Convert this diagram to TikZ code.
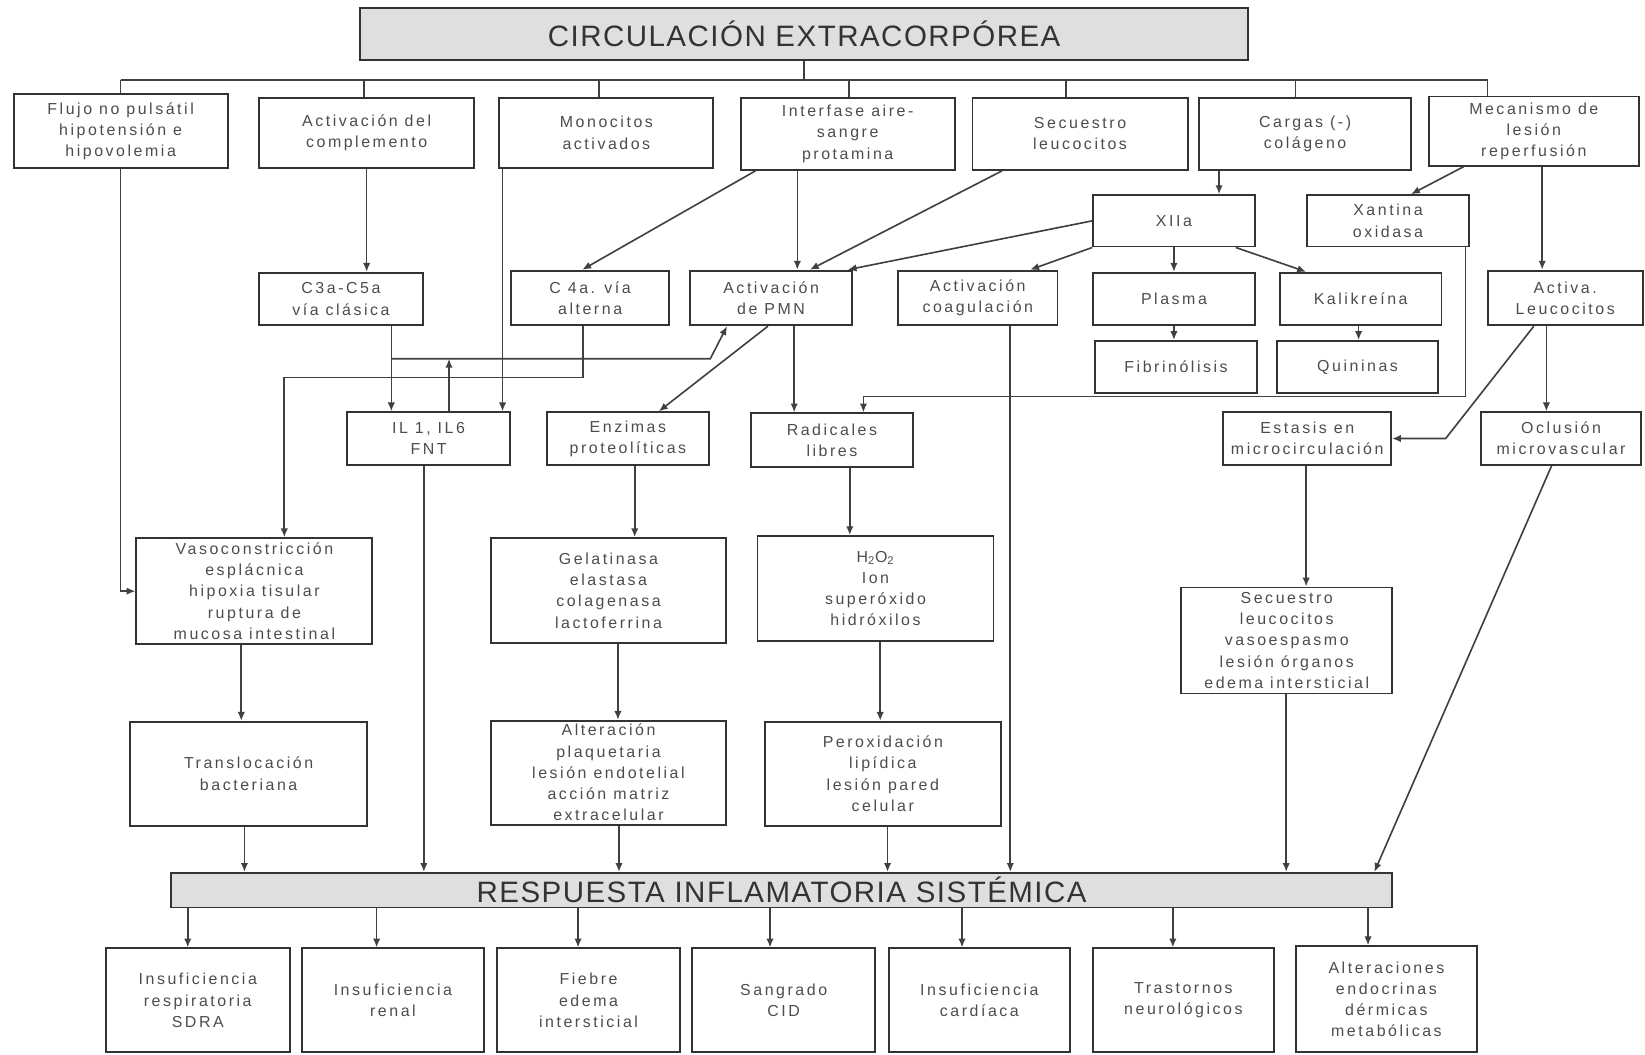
\documentclass[tikz,border=0pt]{standalone}
\usepackage{fontspec}
\setmainfont{Liberation Sans}
\newfontfamily\boxfont{Liberation Sans}[LetterSpace=16]
\newfontfamily\headfont{Liberation Sans}[LetterSpace=5]
\usetikzlibrary{arrows.meta}

\begin{document}
\begin{tikzpicture}[x=0.025cm, y=-0.025cm, >={Latex[length=6pt,width=5pt]}]
    \tikzset{block/.style = {shape=rectangle, draw=black!80, line width=1.3pt, inner sep=0pt, align=center, text=black!70, font=\boxfont\fontsize{10.8}{14.4}\selectfont}}
    \tikzset{head/.style = {block, fill=gray!25, text=black!80, font=\headfont\fontsize{20}{24}\selectfont}}
    \tikzset{wh/.style 2 args = {minimum width=#1*0.025cm, minimum height=#2*0.025cm}}
    \tikzset{link/.style = {draw=black!75, line width=1.1pt}}

    \useasboundingbox (0,0) rectangle (1568,1005);

    % headers
    \node[head, wh={847}{49}] (top) at (766.5,32.5) {CIRCULACIÓN EXTRACORPÓREA};
    \node[head, wh={1164}{33}] (resp) at (745,848.5) {RESPUESTA INFLAMATORIA SISTÉMICA};

    % causes
    \node[block, wh={204}{70}] (flujo) at (115,125) {Flujo no pulsátil\\hipotensión e\\hipovolemia};
    \node[block, wh={205}{67}] (compl) at (349.5,126.5) {Activación del\\complemento};
    \node[block, wh={204}{67}] (mono) at (578,126.5) {Monocitos\\activados};
    \node[block, wh={204}{69}] (inter) at (808,127.5) {Interfase aire-\\sangre\\protamina};
    \node[block, wh={205}{69}] (secu) at (1029.5,127.5) {Secuestro\\leucocitos};
    \node[block, wh={202}{69}] (cargas) at (1244,127.5) {Cargas (-)\\colágeno};
    \node[block, wh={200}{66}] (meca) at (1462,125) {Mecanismo de\\lesión\\reperfusión};

    % mediators
    \node[block, wh={154}{49}] (xiia) at (1119,210.5) {XIIa};
    \node[block, wh={154}{49}] (xant) at (1323,210.5) {Xantina\\oxidasa};
    \node[block, wh={156}{50}] (c3a) at (325,285) {C3a-C5a\\vía clásica};
    \node[block, wh={151}{52}] (c4a) at (562.5,284) {C 4a. vía\\alterna};
    \node[block, wh={154}{52}] (pmn) at (735,284) {Activación\\de PMN};
    \node[block, wh={152}{52}] (coag) at (932,284) {Activación\\coagulación};
    \node[block, wh={154}{50}] (plasma) at (1119,285) {Plasma};
    \node[block, wh={154}{50}] (kalik) at (1297,285) {Kalikreína};
    \node[block, wh={148}{52}] (activa) at (1492,284) {Activa.\\Leucocitos};
    \node[block, wh={154}{50}] (fibrin) at (1121,350) {Fibrinólisis};
    \node[block, wh={154}{50}] (quin) at (1294,350) {Quininas};
    \node[block, wh={155}{50}] (il) at (408.5,418) {IL 1, IL6\\FNT};
    \node[block, wh={155}{50}] (enz) at (598.5,418) {Enzimas\\proteolíticas};
    \node[block, wh={154}{51}] (rad) at (793,419.5) {Radicales\\libres};
    \node[block, wh={160}{50}] (estasis) at (1246,418) {Estasis en\\microcirculación};
    \node[block, wh={152}{50}] (oclu) at (1488,418) {Oclusión\\microvascular};

    % effects
    \node[block, wh={225}{101}] (vaso) at (242.5,563.5) {Vasoconstricción\\esplácnica\\hipoxia tisular\\ruptura de\\mucosa intestinal};
    \node[block, wh={224}{100}] (gelat) at (580,563) {Gelatinasa\\elastasa\\colagenasa\\lactoferrina};
    \node[block, wh={225}{100}] (h2o2) at (834.5,561) {H\textsubscript{2}O\textsubscript{2}\\Ion\\superóxido\\hidróxilos};
    \node[block, wh={201}{101}] (secu2) at (1226.5,610.5) {Secuestro\\leucocitos\\vasoespasmo\\lesión órganos\\edema intersticial};
    \node[block, wh={226}{99}] (transl) at (237,737.5) {Translocación\\bacteriana};
    \node[block, wh={224}{99}] (alter) at (580,736.5) {Alteración\\plaquetaria\\lesión endotelial\\acción matriz\\extracelular};
    \node[block, wh={225}{99}] (perox) at (841.5,737.5) {Peroxidación\\lipídica\\lesión pared\\celular};

    % consequences
    \node[block, wh={175}{99}] (sdra) at (188.5,953.5) {Insuficiencia\\respiratoria\\SDRA};
    \node[block, wh={173}{99}] (renal) at (374.5,953.5) {Insuficiencia\\renal};
    \node[block, wh={174}{99}] (fiebre) at (561,953.5) {Fiebre\\edema\\intersticial};
    \node[block, wh={174}{99}] (cid) at (747,953.5) {Sangrado\\CID};
    \node[block, wh={173}{99}] (cardiaca) at (933.5,953.5) {Insuficiencia\\cardíaca};
    \node[block, wh={172}{99}] (neuro) at (1128,953.5) {Trastornos\\neurológicos};
    \node[block, wh={173}{101}] (endo) at (1321.5,952.5) {Alteraciones\\endocrinas\\dérmicas\\metabólicas};

    % bus from the top box
    \coordinate (busl) at (115,76);
    \coordinate (busr) at (1418,76);
    \draw[link] (top.south) -- (top.south |- busl);
    \draw[link] (busl) -- (busr);
    \foreach \x/\n in {115/flujo, 347/compl, 571/mono, 809/inter, 1016/secu, 1235/cargas, 1418/meca}
        \draw[link] (busl -| \x,0) -- (\n.north -| \x,0);

    % complement and monocytes
    \draw[link,->] (flujo.south) |- (vaso.west);
    \draw[link,->] (compl.south) -- (compl.south |- c3a.north);
    \draw[link,->] (mono.south -| 479,0) -- (il.north -| 479,0);
    \draw[link,->] (c3a.south -| 373,0) -- (il.north -| 373,0);
    \coordinate (pa) at (373,342);
    \coordinate (pb) at (677,342);
    \draw[link,->] (il.north -| 428,0) -- (pa -| 428,0);
    \draw[link,->] (pa) -- (pb) -- (pmn.south -| 693,0);
    \coordinate (ca) at (556,360);
    \draw[link,->] (c4a.south -| 556,0) -- (ca) -| (vaso.north -| 271,0);

    % PMN and mediators
    \draw[link,->] (inter.south -| 720,0) -- (c4a.north -| 555,0);
    \draw[link,->] (inter.south -| 760,0) -- (pmn.north -| 760,0);
    \draw[link,->] (secu.south -| 955,0) -- (pmn.north -| 772,0);
    \draw[link,->] (xiia.west) -- (pmn.north -| 808,0);
    \draw[link,->] (pmn.south -| 732,0) -- (enz.north -| 628,0);
    \draw[link,->] (pmn.south -| 757,0) -- (rad.north -| 757,0);
    \draw[link,->] (enz.south -| 605,0) -- (gelat.north -| 605,0);
    \draw[link,->] (rad.south -| 810,0) -- (h2o2.north -| 810,0);
    \draw[link,->] (gelat.south -| 589,0) -- (alter.north -| 589,0);
    \draw[link,->] (h2o2.south -| 839,0) -- (perox.north -| 839,0);
    \draw[link,->] (vaso.south -| 230,0) -- (transl.north -| 230,0);

    % coagulation
    \draw[link,->] (cargas.south -| 1162,0) -- (xiia.north -| 1162,0);
    \draw[link,->] (xiia.south west) -- (coag.north -| 982,0);
    \draw[link,->] (xiia.south) -- (plasma.north);
    \draw[link,->] (xiia.south -| 1178,0) -- (kalik.north -| 1245,0);
    \draw[link,->] (plasma.south) -- (plasma.south |- fibrin.north);
    \draw[link,->] (kalik.south -| 1295,0) -- (quin.north -| 1295,0);

    % reperfusion
    \draw[link,->] (meca.south -| 1395,0) -- (xant.north -| 1345,0);
    \draw[link,->] (meca.south -| 1470,0) -- (activa.north -| 1470,0);
    \coordinate (xr) at (1397,378);
    \draw[link,->] (xant.south -| xr) -- (xr) -| (rad.north -| 823,0);
    \coordinate (ab) at (1378,418);
    \draw[link,->] (activa.south -| 1462,0) -- (ab) -- (estasis.east);
    \draw[link,->] (activa.south -| 1474,0) -- (oclu.north -| 1474,0);
    \draw[link,->] (estasis.south -| 1245,0) -- (secu2.north -| 1245,0);

    % into the systemic response
    \foreach \x/\n in {233/transl, 404/il, 590/alter, 846/perox, 963/coag, 1226/secu2}
        \draw[link,->] (\n.south -| \x,0) -- (resp.north -| \x,0);
    \draw[link,->] (oclu.south -| 1479,0) -- (resp.north -| 1310,0);

    % consequences
    \foreach \x/\n in {179/sdra, 359/renal, 551/fiebre, 734/cid, 917/cardiaca, 1118/neuro, 1304/endo}
        \draw[link,->] (resp.south -| \x,0) -- (\n.north -| \x,0);
\end{tikzpicture}
\end{document}
